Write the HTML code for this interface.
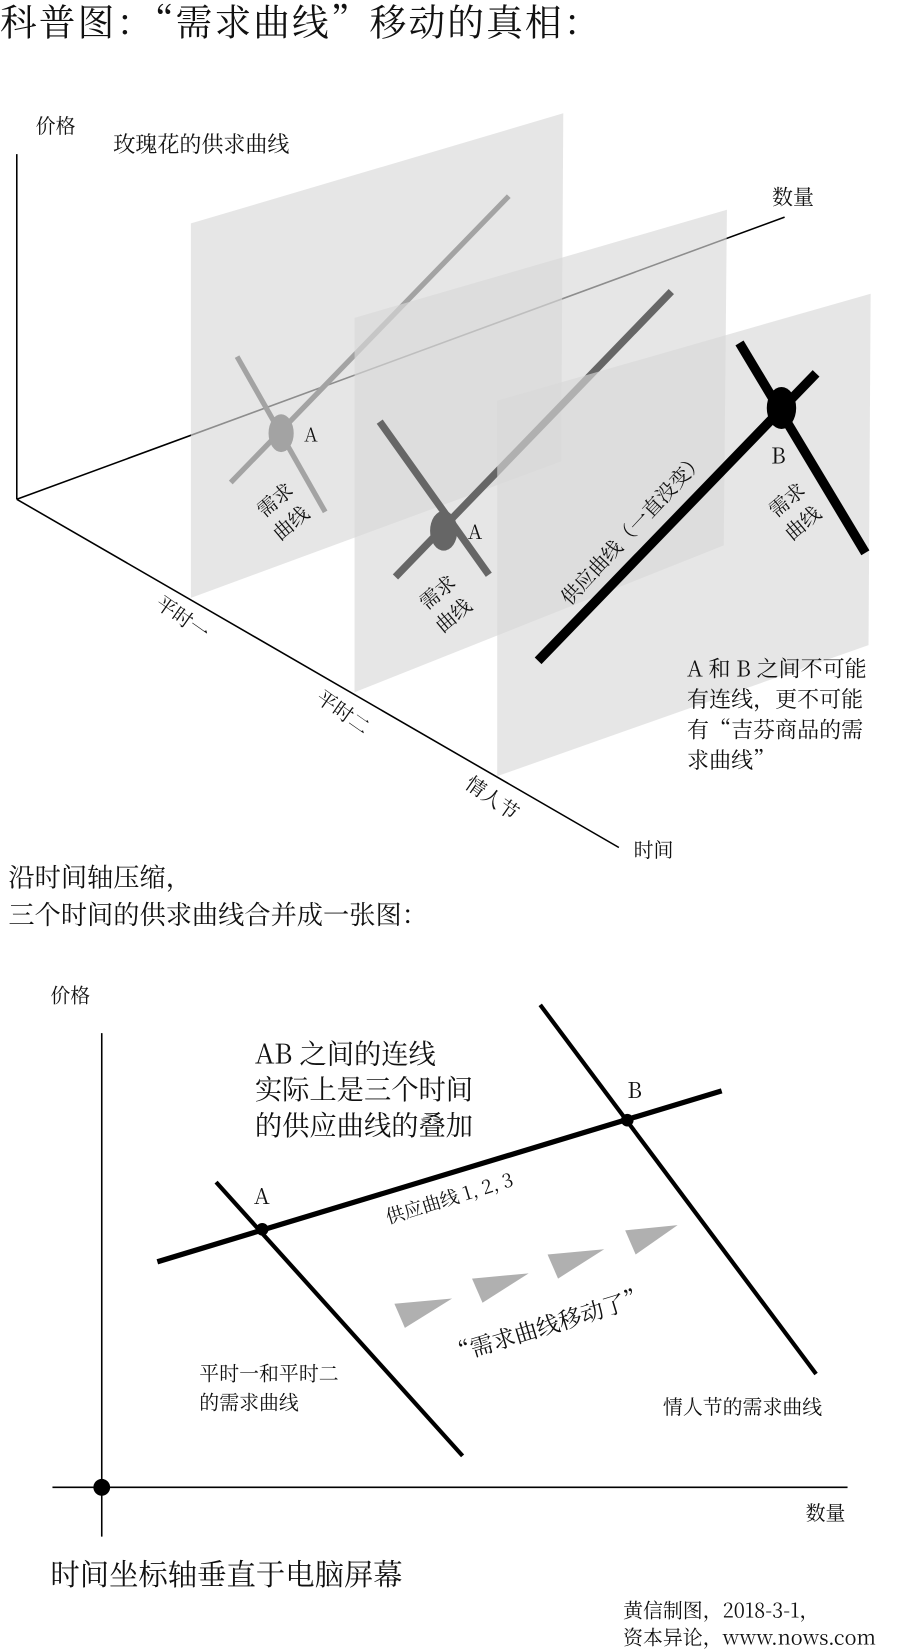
<!DOCTYPE html>
<html><head><meta charset="utf-8"><style>
html,body{margin:0;padding:0;background:#fff;}
svg{display:block;}
text{font-family:"Noto Serif CJK SC","Liberation Serif",serif;fill:#111;}
</style></head><body>
<svg width="900" height="1652" viewBox="0 0 858 1575" preserveAspectRatio="none" xmlns="http://www.w3.org/2000/svg">
<text x="0" y="34" font-size="35" letter-spacing="2">科普图：“需求曲线”移动的真相：</text>
<line x1="16" y1="147" x2="16" y2="476" stroke="#000" stroke-width="1.5"/>
<line x1="16" y1="476" x2="748" y2="207" stroke="#000" stroke-width="1.5"/>
<line x1="16" y1="476" x2="590" y2="808" stroke="#000" stroke-width="1.5"/>
<text x="34" y="127" font-size="19">价格</text>
<text x="108" y="145" font-size="21">玫瑰花的供求曲线</text>
<text x="736" y="195" font-size="20">数量</text>
<text x="604" y="817" font-size="19">时间</text>
<polygon points="182,213 537,108 535,440 182,570" fill="#d8d8d8" fill-opacity="0.65"/>
<line x1="220" y1="460" x2="485" y2="187" stroke="#a3a3a3" stroke-width="5"/>
<line x1="226" y1="340" x2="310" y2="488" stroke="#a3a3a3" stroke-width="5"/>
<ellipse cx="268" cy="413" rx="12" ry="18" fill="#a3a3a3"/>
<text x="290" y="421" font-size="18">A</text>
<text font-size="19" transform="translate(252,494) rotate(-40)">需求</text>
<text font-size="19" transform="translate(267,516) rotate(-40)">曲线</text>
<polygon points="338,303 693,200 690,520 338,660" fill="#d8d8d8" fill-opacity="0.65"/>
<line x1="377" y1="550" x2="640" y2="278" stroke="#666" stroke-width="7"/>
<line x1="362" y1="402" x2="466" y2="548" stroke="#666" stroke-width="7"/>
<ellipse cx="423" cy="506" rx="13" ry="19" fill="#666"/>
<text x="446" y="514" font-size="19">A</text>
<text font-size="19" transform="translate(407,582) rotate(-40)">需求</text>
<text font-size="19" transform="translate(422,604) rotate(-40)">曲线</text>
<polygon points="474,382 830,280 828,615 474,740" fill="#d8d8d8" fill-opacity="0.65"/>
<line x1="513" y1="630" x2="778" y2="356" stroke="#000" stroke-width="9"/>
<line x1="705" y1="327" x2="825" y2="527" stroke="#000" stroke-width="9"/>
<ellipse cx="745" cy="389" rx="14" ry="20" fill="#000"/>
<text x="735" y="442" font-size="21">B</text>
<text font-size="19" transform="translate(543,578) rotate(-47)">供应曲线（一直没变）</text>
<text font-size="19" transform="translate(740,494) rotate(-40)">需求</text>
<text font-size="19" transform="translate(755,516) rotate(-40)">曲线</text>
<text font-size="21" x="655" y="645">A 和 B 之间不可能</text>
<text font-size="21" x="655" y="674">有连线，更不可能</text>
<text font-size="21" x="655" y="703">有“吉芬商品的需</text>
<text font-size="21" x="655" y="732">求曲线”</text>
<text font-size="19" transform="translate(147,578) rotate(35)">平时一</text>
<text font-size="19" transform="translate(300,668) rotate(35)">平时二</text>
<text font-size="19" transform="translate(442,750) rotate(35)">情人节</text>
<text x="8" y="845" font-size="25">沿时间轴压缩，</text>
<text x="8" y="881" font-size="25">三个时间的供求曲线合并成一张图：</text>
<text x="48" y="956" font-size="19">价格</text>
<line x1="97" y1="985" x2="97" y2="1465" stroke="#000" stroke-width="1.5"/>
<line x1="50" y1="1418" x2="808" y2="1418" stroke="#000" stroke-width="1.5"/>
<circle cx="97" cy="1418" r="8" fill="#000"/>
<text x="768" y="1449" font-size="19">数量</text>
<text x="243" y="1014" font-size="26">AB 之间的连线</text>
<text x="243" y="1048" font-size="26">实际上是三个时间</text>
<text x="243" y="1082" font-size="26">的供应曲线的叠加</text>
<line x1="150" y1="1203" x2="688" y2="1040" stroke="#000" stroke-width="5"/>
<line x1="206" y1="1127" x2="441" y2="1388" stroke="#000" stroke-width="4"/>
<line x1="515" y1="958" x2="778" y2="1310" stroke="#000" stroke-width="4"/>
<circle cx="250" cy="1172" r="6" fill="#000"/>
<circle cx="598" cy="1068" r="6" fill="#000"/>
<text x="242" y="1148" font-size="21">A</text>
<text x="598" y="1047" font-size="21">B</text>
<text font-size="18" transform="translate(370,1167) rotate(-17)">供应曲线 1, 2, 3</text>
<g fill="#b0b0b0">
<polygon points="376,1243 431,1238 386,1266"/>
<polygon points="450,1219 504,1214 460,1242"/>
<polygon points="522,1196 576,1191 532,1219"/>
<polygon points="596,1173 646,1168 606,1196"/>
</g>
<text font-size="22" transform="translate(430,1300) rotate(-17)">“需求曲线移动了”</text>
<text x="190" y="1316" font-size="19">平时一和平时二</text>
<text x="190" y="1344" font-size="19">的需求曲线</text>
<text x="632" y="1348" font-size="19">情人节的需求曲线</text>
<text x="48" y="1511" font-size="28">时间坐标轴垂直于电脑屏幕</text>
<text x="594" y="1542" font-size="19">黄信制图，2018-3-1，</text>
<text x="594" y="1568" font-size="19">资本异论，www.nows.com</text>
</svg>
</body></html>
